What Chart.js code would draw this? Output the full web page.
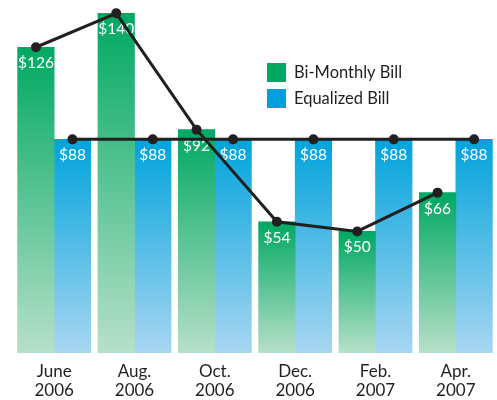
<!DOCTYPE html>
<html><head><meta charset="utf-8">
<script src="https://cdn.jsdelivr.net/npm/chart.js@4/dist/chart.umd.min.js"></script>
<style>html,body{margin:0;padding:0;background:#fff}#wrap{width:497px;height:400px}</style>
</head><body><div id="wrap"><canvas id="c" width="497" height="400"></canvas></div>
<script>
const categories = [['June','2006'],['Aug.','2006'],['Oct.','2006'],['Dec.','2006'],['Feb.','2007'],['Apr.','2007']];
const biMonthly = [126, 140, 92, 54, 50, 66];
const equalized = [88, 88, 88, 88, 88, 88];
const seriesNames = ['Bi-Monthly Bill', 'Equalized Bill'];

const FONT = 'Lato, "Open Sans", sans-serif';
const INK = '#231f20';
const HALF = 0.2275; // offset of each bar centre from its category centre, in category units

const greenPts = biMonthly.map((v, i) => ({ x: i - HALF, y: v }));
const bluePts = equalized.map((v, i) => ({ x: i + HALF, y: v }));

function grad(ctx, top, bottom) {
  const chart = ctx.chart;
  const ca = chart.chartArea;
  if (!ca || !ctx.raw) return top;
  const y0 = chart.scales.y.getPixelForValue(ctx.raw.y);
  const g = chart.ctx.createLinearGradient(0, y0, 0, ca.bottom);
  g.addColorStop(0, top);
  g.addColorStop(1, bottom);
  return g;
}

const labelPlugin = {
  id: 'barLabels',
  afterDatasetDraw(chart, args) {
    const ds = chart.data.datasets[args.index];
    if (ds.type !== 'bar') return;
    const c = chart.ctx;
    c.save();
    c.fillStyle = '#ffffff';
    c.font = '15.5px ' + FONT;
    c.textAlign = 'center';
    c.textBaseline = 'middle';
    args.meta.data.forEach((el, i) => {
      c.fillText('$' + ds.data[i].y, el.x, el.y + 16);
    });
    c.restore();
  }
};

const legendPlugin = {
  id: 'innerLegend',
  afterDraw(chart) {
    const c = chart.ctx;
    const cols = ['#00a862', '#00a0dc'];
    c.save();
    c.font = '16.5px ' + FONT;
    c.textBaseline = 'middle';
    c.textAlign = 'left';
    seriesNames.forEach((n, i) => {
      const y = 63 + i * 26;
      c.fillStyle = cols[i];
      c.fillRect(267, y, 19, 19);
      c.fillStyle = INK;
      c.fillText(n, 294, y + 10);
    });
    c.restore();
  }
};

new Chart(document.getElementById('c'), {
  type: 'bar',
  data: {
    datasets: [
      { type: 'bar', label: seriesNames[0], data: greenPts, order: 2, grouped: false,
        backgroundColor: ctx => grad(ctx, '#00a862', '#b6e0c9'),
        categoryPercentage: 1, barPercentage: 1, borderWidth: 0 },
      { type: 'bar', label: seriesNames[1], data: bluePts, order: 2, grouped: false,
        backgroundColor: ctx => grad(ctx, '#00a3dc', '#a8d6f1'),
        categoryPercentage: 1, barPercentage: 1, borderWidth: 0 },
      { type: 'line', data: greenPts, order: 1,
        borderColor: INK, borderWidth: 3, pointRadius: 5, pointBackgroundColor: INK, pointBorderWidth: 0, tension: 0 },
      { type: 'line', data: bluePts, order: 1,
        borderColor: INK, borderWidth: 3, pointRadius: 5, pointBackgroundColor: INK, pointBorderWidth: 0, tension: 0 }
    ]
  },
  options: {
    responsive: false,
    animation: false,
    layout: { autoPadding: false, padding: { left: 14, right: 1, top: 0, bottom: -10 } },
    plugins: { legend: { display: false }, tooltip: { enabled: false } },
    scales: {
      x: { type: 'linear', min: -0.5, max: 5.5, offset: false,
        grid: { display: false, drawTicks: false }, border: { display: false },
        afterBuildTicks: s => { s.ticks = categories.map((_, i) => ({ value: i })); },
        ticks: { color: INK, font: { family: FONT, size: 17, lineHeight: 1.1 }, padding: 10, maxRotation: 0, autoSkip: false,
          callback: v => categories[v] } },
      y: { display: false, min: 0, max: 145.5 }
    },
    clip: false
  },
  plugins: [labelPlugin, legendPlugin]
});
</script></body></html>
